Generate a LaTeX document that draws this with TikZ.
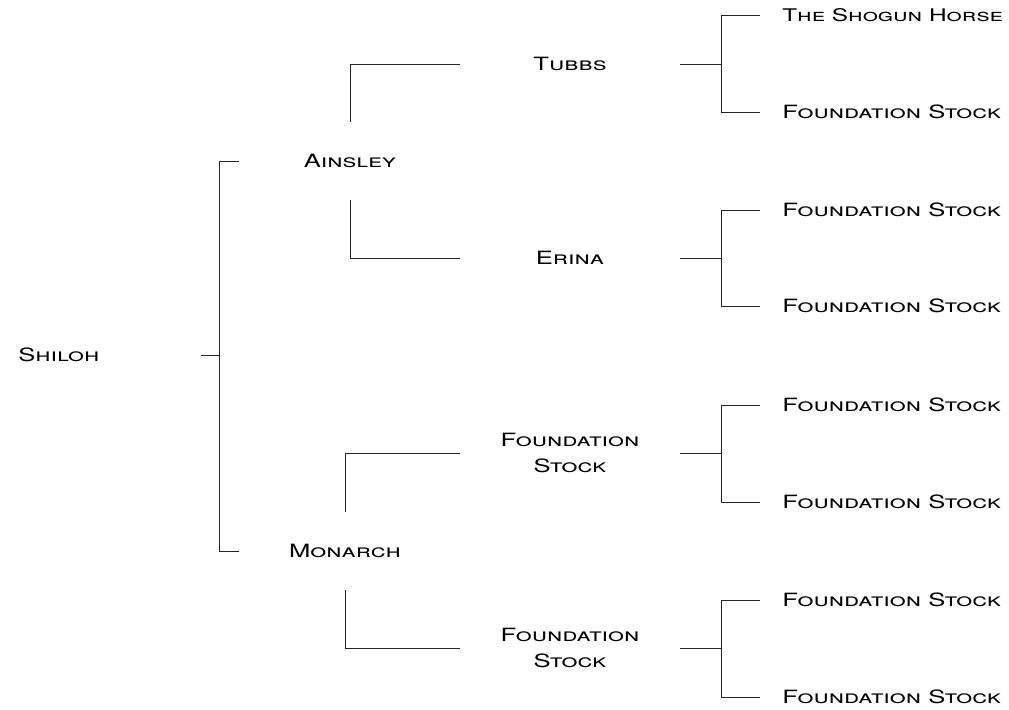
\documentclass[tikz,border=0pt]{standalone}
\usepackage{fontspec}
\setmainfont{TeX Gyre Heros}[FakeStretch=1.4]
\usetikzlibrary{positioning}
\tikzstyle{horse} = [font=\fontsize{13}{19}\selectfont\scshape, inner sep=0pt]
\tikzstyle{dam} = [horse, minimum width=5.5cm, align=center]
\tikzstyle{parent} = [horse, minimum height=1.95cm]
\tikzstyle{leaf} = [horse, anchor=west, inner xsep=0.55cm]
\tikzstyle{line} = [draw, line width=0.7pt, black!85]

\begin{document}
\begin{tikzpicture}[x=0.025cm, y=-0.025cm]
	\useasboundingbox (0,0) rectangle (1009,710);

		\node [horse, anchor=west, text width=4.55cm, align=left] (shiloh) at (18,355) {Shiloh};

		\node [parent] (ainsley) at (350,161) {Ainsley};
		\node [parent] (monarch) at (345,551) {Monarch};

		\node [dam] (tubbs) at (570,64) {Tubbs};
		\node [dam] (erina) at (570,258) {Erina};
		\node [dam] (stockA) at (570,453) {Foundation\\Stock};
		\node [dam] (stockB) at (570,648) {Foundation\\Stock};

		\node [leaf, font=\fontsize{12.4}{19}\selectfont\scshape] (shogun) at (760,15) {The Shogun Horse};
		\node [leaf] (tubbsD) at (760,112) {Foundation Stock};
		\node [leaf] (erinaS) at (760,210) {Foundation Stock};
		\node [leaf] (erinaD) at (760,306) {Foundation Stock};
		\node [leaf] (stockAS) at (760,405) {Foundation Stock};
		\node [leaf] (stockAD) at (760,502) {Foundation Stock};
		\node [leaf] (stockBS) at (760,600) {Foundation Stock};
		\node [leaf] (stockBD) at (760,697) {Foundation Stock};

		% sire and dam of Shiloh
		\path [line] (shiloh.east) -- ++(19,0) coordinate (sj);
		\path [line] ([xshift=0.475cm]sj |- ainsley) -- (sj |- ainsley) -- (sj |- monarch) -- ++(19,0);

		\path [line] (ainsley.north) |- (tubbs.west);
		\path [line] (ainsley.south) |- (erina.west);
		\path [line] (monarch.north) |- (stockA.west);
		\path [line] (monarch.south) |- (stockB.west);

		% third generation
		\path [line] (tubbs.east) -- ++(41,0) coordinate (tj);
		\path [line] (shogun.west) -| (tj) |- (tubbsD.west);
		\path [line] (erina.east) -- ++(41,0) coordinate (ej);
		\path [line] (erinaS.west) -| (ej) |- (erinaD.west);
		\path [line] (stockA.east) -- ++(41,0) coordinate (aj);
		\path [line] (stockAS.west) -| (aj) |- (stockAD.west);
		\path [line] (stockB.east) -- ++(41,0) coordinate (bj);
		\path [line] (stockBS.west) -| (bj) |- (stockBD.west);
	\end{tikzpicture}
\end{document}
